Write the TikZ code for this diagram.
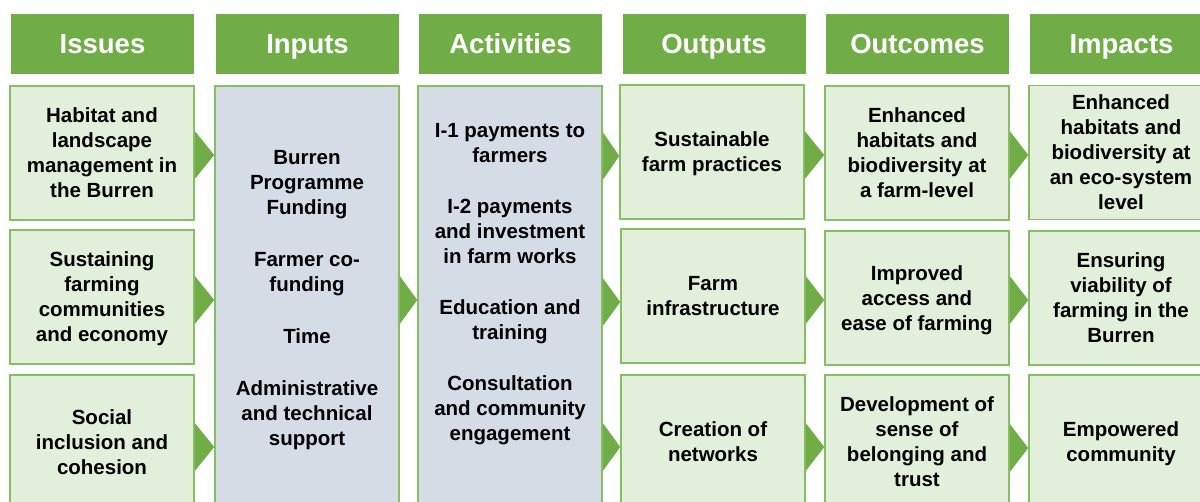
\documentclass[tikz,border=0pt]{standalone}
\usepackage{fontspec}
\setmainfont{Liberation Sans}
\definecolor{hdr}{HTML}{70AD47}
\definecolor{lg}{HTML}{E2EFDA}
\definecolor{gb}{HTML}{D6DCE5}
\definecolor{bd}{HTML}{86BF62}
\newcommand\sx{\rule[-4.3pt]{0pt}{23.3pt}}
\newcommand\lmarrow[3]{\fill[arrowfill] (#1.east |- 0,#3-24) -- (#2.west |- 0,#3) -- (#1.east |- 0,#3+24) -- cycle;}
\begin{document}
\begin{tikzpicture}[x=1pt,y=-1pt,
  hdrbox/.style={fill=hdr, minimum width=183pt, minimum height=60pt, inner sep=0pt, text=white, text height=24.7pt, text depth=5pt, font=\fontsize{27.5}{30}\selectfont\bfseries},
  greenbox/.style={fill=lg, draw=bd, line width=1.5pt, minimum width=184pt, minimum height=134pt, inner sep=0pt, align=center, font=\fontsize{20.5}{25}\selectfont\bfseries},
  tallbox/.style={fill=gb, draw=bd, line width=1.5pt, minimum width=184pt, minimum height=423pt, inner sep=0pt},
  bodytext/.style={align=center, inner sep=0pt, font=\fontsize{20.5}{25}\selectfont\bfseries},
  arrowfill/.style={fill=hdr}]
\useasboundingbox (0,0) rectangle (1200,501);
\clip (0,0) rectangle (1200,501);
\fill[white] (0,0) rectangle (1200,501);

% headers
\node[hdrbox] (h1) at (102.5,44) {Issues};
\node[hdrbox] (h2) at (307.5,44) {Inputs};
\node[hdrbox] (h3) at (510.5,44) {Activities};
\node[hdrbox] (h4) at (714,44) {Outputs};
\node[hdrbox] (h5) at (917.5,44) {Outcomes};
\node[hdrbox] (h6) at (1121.5,44) {Impacts};

% issues
\node[greenbox] (is1) at (102,153) {\sx Habitat and\\landscape\\management in\\the Burren\sx};
\node[greenbox] (is2) at (102,297) {\sx Sustaining\\farming\\communities\\and economy\sx};
\node[greenbox] (is3) at (102,442) {\sx Social\\inclusion and\\cohesion\sx};

% inputs
\node[tallbox] (inp) at (307,297.5) {};
\node[bodytext] (inpt) at (307,298) {\sx Burren\\Programme\\Funding\\[27pt]Farmer co-\\funding\\[27pt]Time\\[27pt]Administrative\\and technical\\support\sx};

% activities
\node[tallbox] (act) at (510,297.5) {};
\node[bodytext] (actt) at (510,282) {\sx I-1 payments to\\farmers\\[26pt]I-2 payments\\and investment\\in farm works\\[26pt]Education and\\training\\[26pt]Consultation\\and community\\engagement\sx};

% outputs
\node[greenbox] (op1) at (712,152) {\sx Sustainable\\farm practices\sx};
\node[greenbox] (op2) at (713,296) {\sx Farm\\infrastructure\sx};
\node[greenbox] (op3) at (713,442) {\sx Creation of\\networks\sx};

% outcomes
\node[greenbox] (oc1) at (917,153) {\sx Enhanced\\habitats and\\biodiversity at\\a farm-level\sx};
\node[greenbox] (oc2) at (917,298) {\sx Improved\\access and\\ease of farming\sx};
\node[greenbox] (oc3) at (917,442) {\sx Development of\\sense of\\belonging and\\trust\sx};

% impacts
\node[greenbox] (im1) at (1121,152.5) {\sx Enhanced\\habitats and\\biodiversity at\\an eco-system\\level\sx};
\node[greenbox] (im2) at (1121,298) {\sx Ensuring\\viability of\\farming in the\\Burren\sx};
\node[greenbox] (im3) at (1121,442) {\sx Empowered\\community\sx};

% arrows
\lmarrow{is1}{inp}{155}
\lmarrow{is2}{inp}{300}
\lmarrow{is3}{inp}{447}
\lmarrow{inp}{act}{300}
\lmarrow{act}{op1}{156}
\lmarrow{act}{op2}{302}
\lmarrow{act}{op3}{447}
\lmarrow{op1}{oc1}{155}
\lmarrow{op2}{oc2}{300}
\lmarrow{op3}{oc3}{447}
\lmarrow{oc1}{im1}{155}
\lmarrow{oc2}{im2}{300}
\lmarrow{oc3}{im3}{448}
\end{tikzpicture}
\end{document}
